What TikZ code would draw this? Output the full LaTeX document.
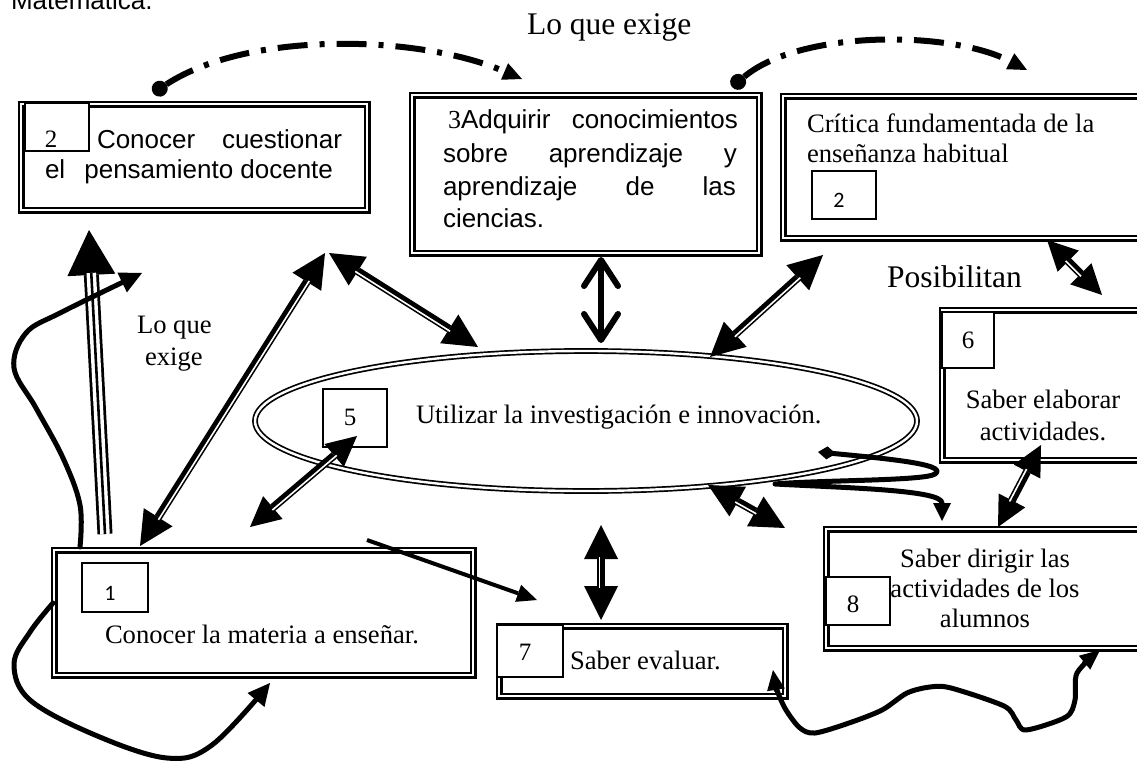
\documentclass[tikz,border=0pt]{standalone}
\usepackage{fontspec}
\setmainfont{Liberation Serif}
\newfontfamily\arialfont{Liberation Sans}
\newfontfamily\calfont{Carlito}
\usetikzlibrary{arrows.meta,shapes.geometric,calc}

% thin white stripe running along one side of a heavy two-headed shaft
\newcommand\shaftline[3]{%
  \draw[white, line width=1.6pt, shorten <=#3, shorten >=#3]
    ($(#1)!1.6pt!-90:(#2)$) -- ($(#2)!1.6pt!90:(#1)$);}

\tikzset{
  dblbox/.style={draw, rectangle, line width=2.3pt, double, double distance=2.4pt, inner sep=0pt, outer sep=0pt},
  numbox/.style={draw, rectangle, fill=white, line width=1.2pt, inner sep=0pt, outer sep=0pt},
  serif/.style={inner sep=0pt, outer sep=0pt, font=\fontsize{26.6}{32}\selectfont},
  sans/.style={inner sep=0pt, outer sep=0pt, font=\arialfont\fontsize{26}{31}\selectfont},
  bigserif/.style={inner sep=0pt, outer sep=0pt, font=\fontsize{31.5}{36}\selectfont},
  digit/.style={inner sep=0pt, anchor=base, font=\fontsize{25}{29}\selectfont},
  cdigit/.style={inner sep=0pt, anchor=base, font=\calfont\fontsize{22}{26}\selectfont},
  twohead/.style={line width=8pt, {Triangle[length=#1,width=#1,line width=0pt]}-{Triangle[length=#1,width=#1,line width=0pt]}},
  heavy/.style={line width=5pt, line cap=round, line join=round},
  dashdot/.style={line width=6pt, dash pattern=on 30pt off 12pt on 5pt off 12pt},
  smalltip/.tip={Triangle[length=20pt,width=18pt,line width=0pt]},
}

\begin{document}
\begin{tikzpicture}[x=1pt,y=-1pt]
\useasboundingbox (0,0) rectangle (1137,760);
\fill[white] (0,0) rectangle (1137,760);

% heading cut at the top edge
\node[sans, anchor=base west] (mat) at (11,10) {Matemática.};

% framed boxes
\node[dblbox, minimum width=346pt, minimum height=106pt] (b2) at (194,157) {};
\node[dblbox, minimum width=347pt, minimum height=158pt] (b3) at (585.5,174) {};
\node[dblbox, minimum width=377pt, minimum height=142pt] (bc) at (971.5,167) {};
\node[dblbox, minimum width=218pt, minimum height=150pt] (b6) at (1051,385) {};
\node[dblbox, minimum width=334pt, minimum height=119pt] (b8) at (993,588.5) {};
\node[dblbox, minimum width=286pt, minimum height=70pt] (b7) at (642,661) {};
\node[dblbox, minimum width=419pt, minimum height=125pt] (b1) at (263.5,612.5) {};
\node[draw, ellipse, line width=1.7pt, double, double distance=2.4pt, inner sep=0pt,
      minimum width=662pt, minimum height=140pt] (ell) at (586,421) {};

% box texts
\node[sans, anchor=base west] (t2a) at (97,148) {\hbox to 245pt{Conocer\hfill cuestionar}};
\node[sans, anchor=base west] (t2b) at (45,178) {\hbox to 288pt{el\hfill pensamiento docente}};

\node[sans, anchor=base west] (t3a) at (448,128) {\hbox to 290pt{{\rmfamily 3}Adquirir\hfill conocimientos}};
\node[sans, anchor=base west] (t3b) at (443,162) {\hbox to 294pt{sobre\hfill aprendizaje\hfill y}};
\node[sans, anchor=base west] (t3c) at (443,195) {\hbox to 293pt{aprendizaje\hfill de\hfill las}};
\node[sans, anchor=base west] (t3d) at (443,227) {ciencias.};

\node[serif, anchor=base west] (tca) at (807,132) {Crítica fundamentada de la};
\node[serif, anchor=base west] (tcb) at (807,162) {enseñanza habitual};

\node[serif, anchor=base] (t6a) at (1043,408) {Saber elaborar};
\node[serif, anchor=base] (t6b) at (1043,440) {actividades.};

\node[serif, anchor=base] (t8a) at (985,567) {Saber dirigir las};
\node[serif, anchor=base] (t8b) at (985,597) {actividades de los};
\node[serif, anchor=base] (t8c) at (985,627) {alumnos};

\node[serif, anchor=base west] (t7) at (570,669) {Saber evaluar.};
\node[serif, anchor=base west] (t1) at (105,643) {Conocer la materia a enseñar.};
\node[serif, anchor=base west] (t5) at (416,423) {Utilizar la investigación e innovación.};

% free labels
\node[bigserif, anchor=base west] (lq) at (527,35) {Lo que exige};
\node[bigserif, anchor=base west] (pos) at (887,287) {Posibilitan};
\node[serif, anchor=base west] (lqa) at (137,333) {Lo que};
\node[serif, anchor=base west] (lqb) at (145,365) {exige};

% number tags
\node[numbox, minimum width=64pt, minimum height=48pt] (n2) at (57,127) {};
\node[numbox, minimum width=64pt, minimum height=48pt] (nc) at (844,195) {};
\node[numbox, minimum width=64pt, minimum height=58pt] (n5) at (355,418) {};
\node[numbox, minimum width=52pt, minimum height=56pt] (n6) at (968,340) {};
\node[numbox, minimum width=64pt, minimum height=48pt] (n8) at (858,601) {};
\node[numbox, minimum width=66pt, minimum height=52pt] (n7) at (530,651) {};
\node[numbox, minimum width=66pt, minimum height=49pt] (n1) at (115,587.5) {};
\node[digit] (d2) at (51,147) {2};
\node[cdigit] (dc) at (839,207) {2};
\node[digit] (d5) at (350,425) {5};
\node[digit] (d6) at (968,348) {6};
\node[digit] (d7) at (525,660) {7};
\node[digit] (d8) at (853,612) {8};
\node[cdigit] (d1) at (110,600) {1};

% connector end points
\coordinate (k0) at (153,93);   \coordinate (k1) at (522,79);
\coordinate (k2) at (732,87);   \coordinate (k3) at (1027,70);
\coordinate (u0) at (105,534);  \coordinate (u1) at (89,230);
\coordinate (s0) at (80,547);   \coordinate (s1) at (142,273);
\coordinate (q0) at (53,603);   \coordinate (q1) at (270,683);
\coordinate (r0) at (367,540);  \coordinate (r1) at (537,600);
\coordinate (v0) at (601,257);  \coordinate (v1) at (601,343);
\coordinate (m0) at (818,452);  \coordinate (m1) at (942,521);
\coordinate (w0) at (773,670);  \coordinate (w1) at (1100,650);
\coordinate (p1) at (140,546);  \coordinate (p2) at (325,253);
\coordinate (p3) at (329,253);  \coordinate (p4) at (478,347);
\coordinate (p5) at (250,527);  \coordinate (p6) at (357,436);
\coordinate (p7) at (710,357);  \coordinate (p8) at (823,255);
\coordinate (p9) at (1047,240); \coordinate (p10) at (1102,295);
\coordinate (p11) at (1041,445);\coordinate (p12) at (998,527);
\coordinate (p13) at (708,485); \coordinate (p14) at (785,528);
\coordinate (p15) at (601,525); \coordinate (p16) at (601,620);

% dash-dot arcs over the top row
\draw[dashdot, {Circle[length=16pt,line width=0pt]}-{Triangle[length=19pt,width=18pt,line width=0pt]}]
  (k0) .. controls (250,30) and (420,35) .. (k1);
\draw[dashdot, {Circle[length=16pt,line width=0pt]}-{Triangle[length=19pt,width=18pt,line width=0pt]}]
  (k2) .. controls (800,30) and (950,30) .. (k3);

% triple-lined arrow up to box 2
\draw[line width=15pt, -{Triangle[length=45pt,width=48pt,line width=0pt]}] (u0) -- (u1);
\draw[white, line width=9.5pt, shorten >=43pt] (u0) -- (u1);
\draw[line width=2.6pt, shorten >=43pt] (u0) -- (u1);

% free-hand curved arrows
\draw[heavy, -{Triangle[length=22pt,width=22pt,line width=0pt]}]
  plot[smooth, tension=0.6] coordinates {(s0) (80,505) (63,458) (36,408) (14,368) (26,333) (62,312) (s1)};
\draw[heavy, -{Triangle[length=22pt,width=22pt,line width=0pt]}]
  plot[smooth, tension=0.6] coordinates {(q0) (30,632) (14,664) (30,700) (95,735) (167,758) (212,745) (q1)};
\draw[line width=4pt, -{Triangle[length=20pt,width=18pt,line width=0pt]}] (r0) -- (r1);
\draw[heavy, {Diamond[length=18pt,width=13pt,line width=0pt]}-{Triangle[length=18pt,width=18pt,line width=0pt]}]
  (m0) .. controls (880,458) and (950,464) .. (935,474)
       .. controls (925,481) and (820,480) .. (775,484)
       .. controls (850,488) and (942,490) .. (m1);
\draw[heavy, smalltip-smalltip]
  plot[smooth, tension=0.5] coordinates {(w0) (777,690) (786,710) (800,728) (815,733) (849,723) (882,710)
    (907,693) (930,687) (951,688) (1004,706) (1016,720) (1026,730) (1066,717) (1075,700) (1077,673) (w1)};

% open-headed arrow between box 3 and the ellipse
\draw[line width=6pt, {Straight Barb[length=26pt,width=34pt,round]}-{Straight Barb[length=26pt,width=34pt,round]}] (v0) -- (v1);

% heavy two-headed arrows
\draw[twohead=34pt] (p1) -- (p2);   \shaftline{p1}{p2}{32pt}
\draw[twohead=34pt] (p3) -- (p4);   \shaftline{p3}{p4}{32pt}
\draw[twohead=30pt] (p5) -- (p6);   \shaftline{p5}{p6}{28pt}
\draw[twohead=34pt] (p7) -- (p8);   \shaftline{p7}{p8}{32pt}
\draw[twohead=30pt] (p9) -- (p10);  \shaftline{p9}{p10}{28pt}
\draw[twohead=30pt] (p11) -- (p12); \shaftline{p11}{p12}{28pt}
\draw[twohead=34pt] (p13) -- (p14); \shaftline{p13}{p14}{32pt}
\draw[twohead=34pt] (p15) -- (p16); \shaftline{p15}{p16}{32pt}
\end{tikzpicture}
\end{document}
